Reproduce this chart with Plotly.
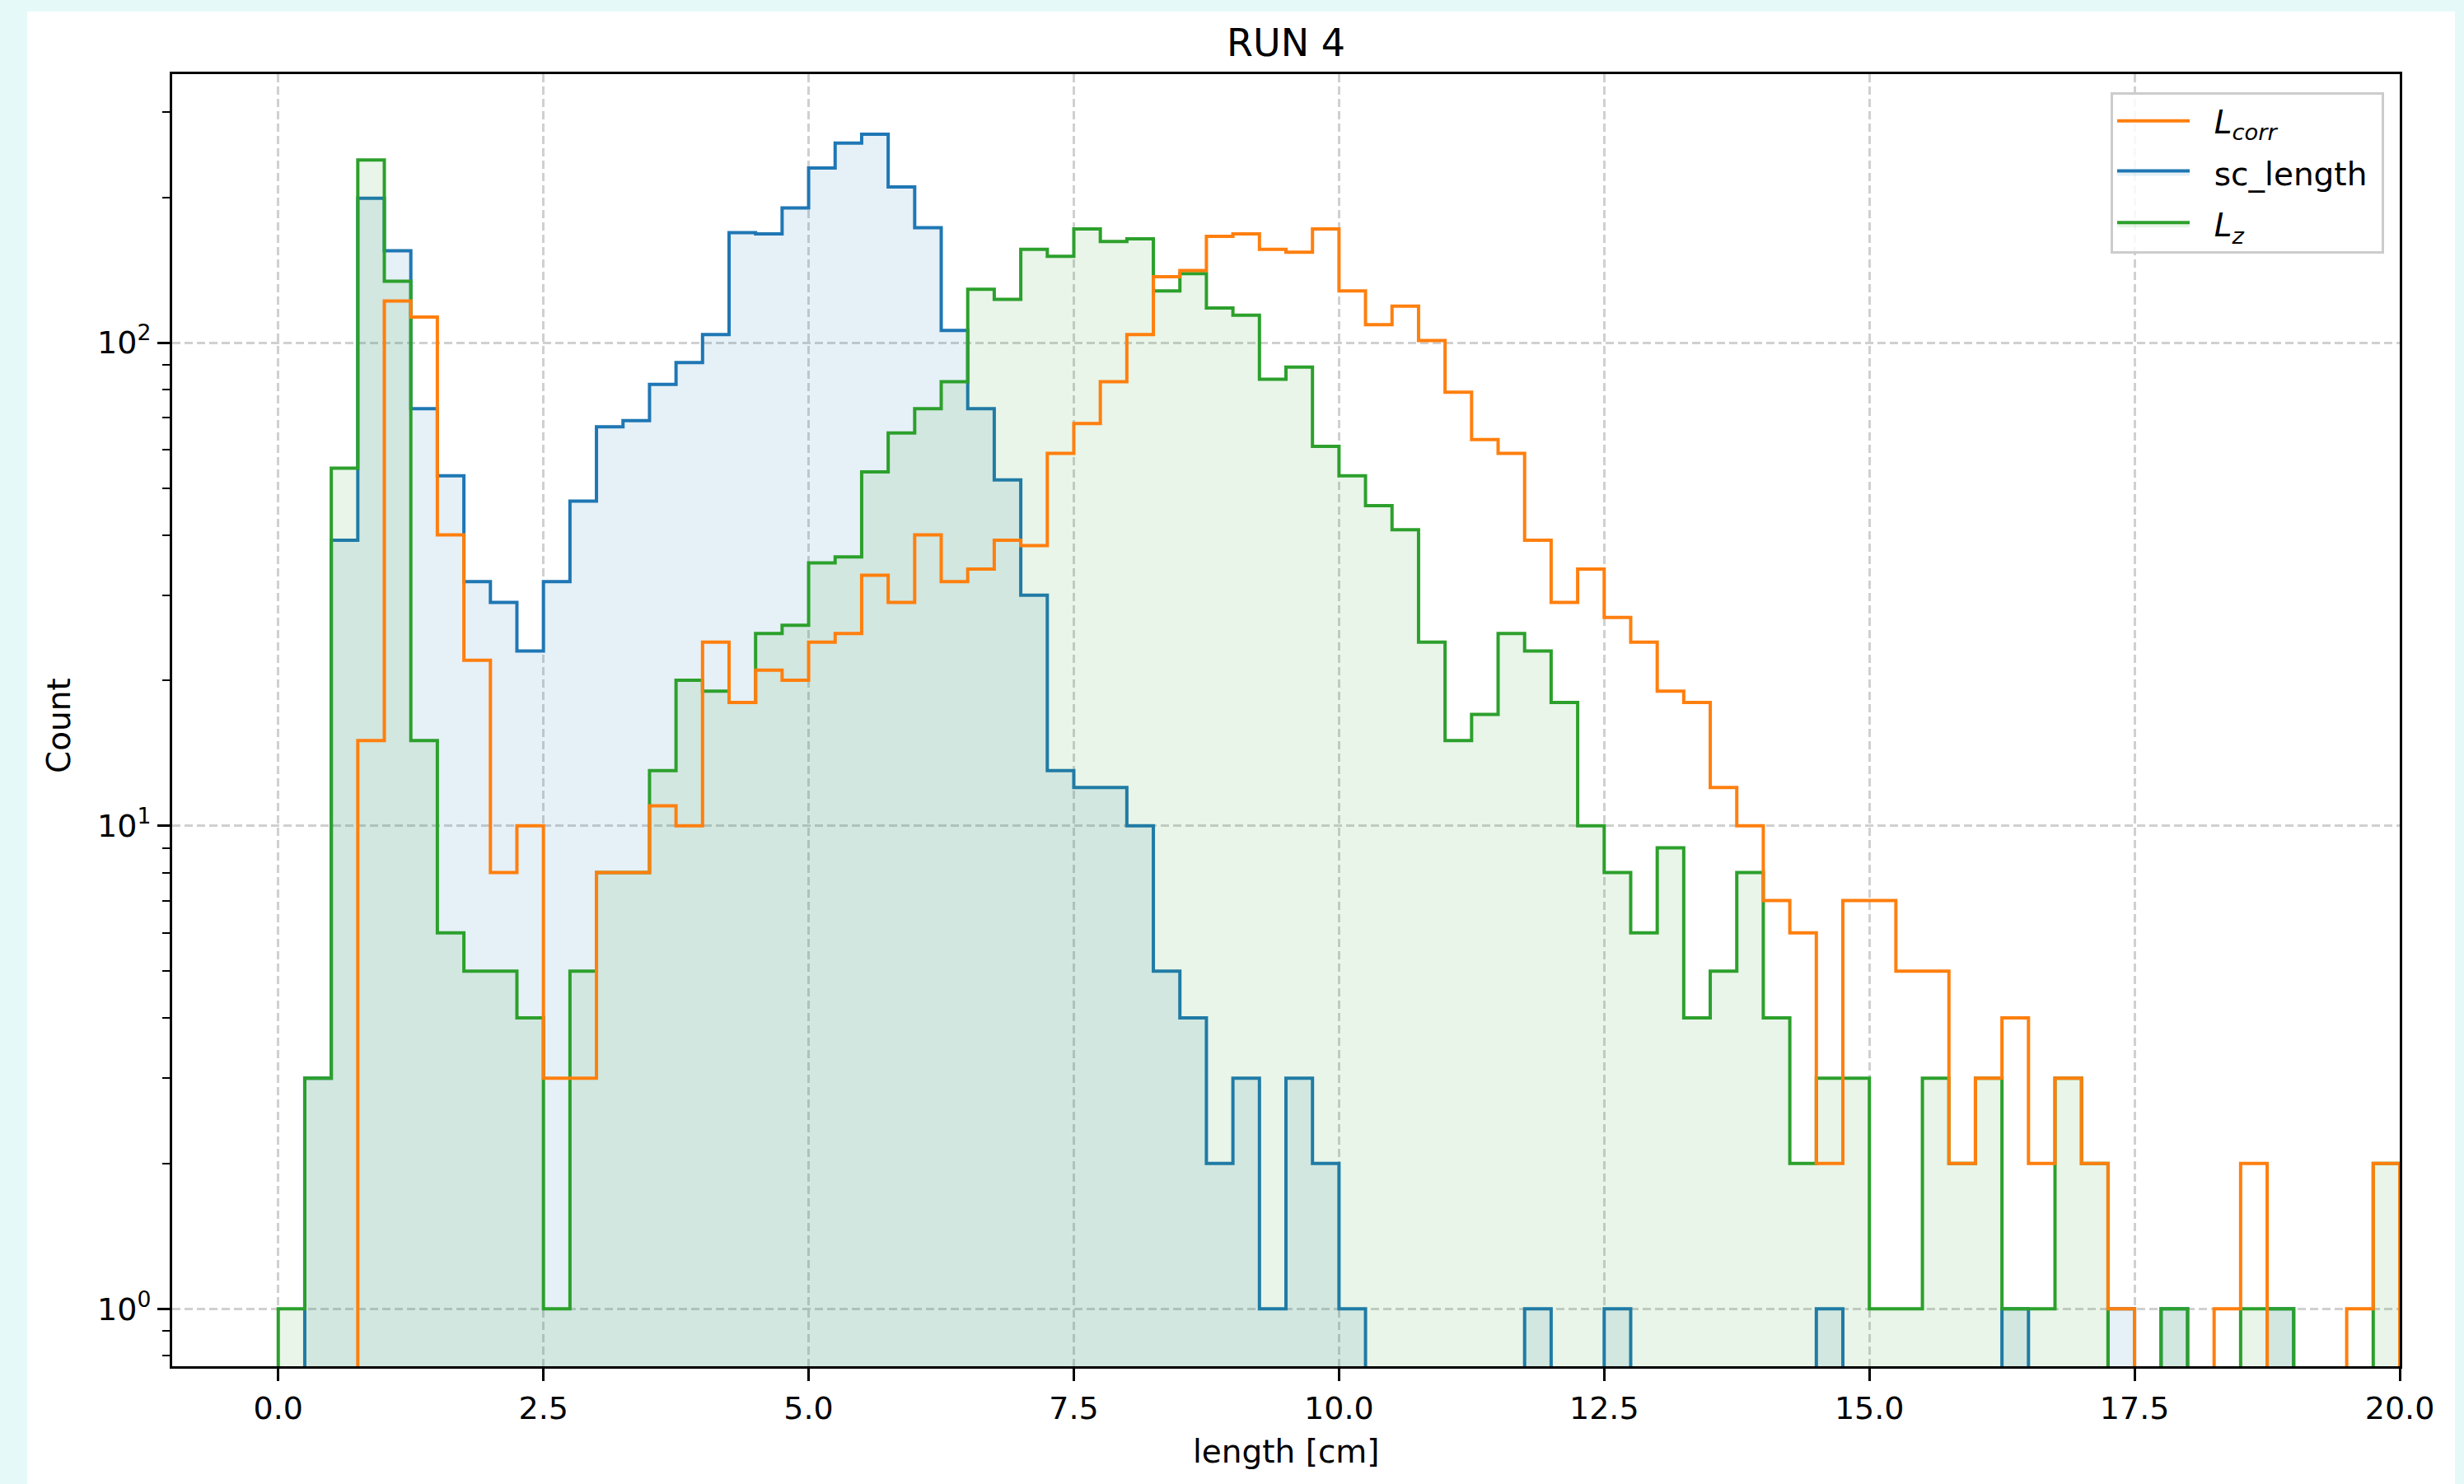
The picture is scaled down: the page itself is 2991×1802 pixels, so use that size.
import plotly.graph_objects as go

# ---------------- data (histogram counts, 80 bins of 0.25 cm from 0 to 20) ----------------
BIN_WIDTH = 0.25
N_BINS = 80
bin_edges = [i * BIN_WIDTH for i in range(N_BINS + 1)]

sc_length_counts = [
    0, 3, 39, 199, 155, 73, 53, 32, 29, 23,
    32, 47, 67, 69, 82, 91, 104, 169, 168, 190,
    230, 259, 270, 210, 173, 106, 73, 52, 30, 13,
    12, 12, 10, 5, 4, 2, 3, 1, 3, 2,
    1, 0, 0, 0, 0, 0, 0, 1, 0, 0,
    1, 0, 0, 0, 0, 0, 0, 0, 1, 0,
    0, 0, 0, 0, 0, 1, 0, 0, 0, 1,
    0, 1, 0, 0, 0, 1, 0, 0, 0, 0,
]

lz_counts = [
    1, 3, 55, 239, 134, 15, 6, 5, 5, 4,
    1, 5, 8, 8, 13, 20, 19, 18, 25, 26,
    35, 36, 54, 65, 73, 83, 129, 123, 156, 151,
    172, 162, 164, 128, 139, 118, 114, 84, 89, 61,
    53, 46, 41, 24, 15, 17, 25, 23, 18, 10,
    8, 6, 9, 4, 5, 8, 4, 2, 3, 3,
    1, 1, 3, 2, 3, 1, 1, 3, 2, 0,
    0, 1, 0, 0, 1, 1, 0, 0, 0, 2,
]

lcorr_counts = [
    0, 0, 0, 15, 122, 113, 40, 22, 8, 10,
    3, 3, 8, 8, 11, 10, 24, 18, 21, 20,
    24, 25, 33, 29, 40, 32, 34, 39, 38, 59,
    68, 83, 104, 137, 141, 166, 168, 156, 154, 172,
    128, 109, 119, 101, 79, 63, 59, 39, 29, 34,
    27, 24, 19, 18, 12, 10, 7, 6, 2, 7,
    7, 5, 5, 2, 3, 4, 2, 3, 2, 1,
    0, 0, 0, 1, 2, 0, 0, 0, 1, 2,
]

series_names = ["sc_length", "<i>L<sub>z</sub></i>", "<i>L<sub>corr</sub></i>"]
x_tick_values = [0, 2.5, 5, 7.5, 10, 12.5, 15, 17.5, 20]
y_tick_values = [1, 10, 100]
y_tick_text = ["10<sup>0</sup>", "10<sup>1</sup>", "10<sup>2</sup>"]
y_minor_values = [0.8, 0.9, 2, 3, 4, 5, 6, 7, 8, 9,
                  20, 30, 40, 50, 60, 70, 80, 90, 200, 300]

# ---------------- helpers ----------------
FLOOR = 0.1  # stands in for zero counts on the log axis (below visible range)
NB = "\u00a0"


def step_outline(counts):
    ys = [c if c > 0 else FLOOR for c in counts]
    xs = [bin_edges[0]] + bin_edges[:-1] + [bin_edges[-1], bin_edges[-1]]
    yy = [FLOOR] + ys + [ys[-1], FLOOR]
    return xs, yy


def legend_label(name):
    return NB * 2 + name + NB


BLUE = "#1f77b4"
ORANGE = "#ff7f0e"
GREEN = "#2ca02c"
FONT = "DejaVu Sans"

fig = go.Figure()

bx, by = step_outline(sc_length_counts)
fig.add_trace(go.Scatter(
    x=bx, y=by, mode="lines", line=dict(color=BLUE, width=4, shape="hv"),
    fill="toself", fillcolor="rgba(31,119,180,0.11)",
    name=legend_label(series_names[0]), legendrank=2, legendgroup="sc",
    hoverinfo="skip",
))

gx, gy = step_outline(lz_counts)
fig.add_trace(go.Scatter(
    x=gx, y=gy, mode="lines", line=dict(color=GREEN, width=4, shape="hv"),
    fill="toself", fillcolor="rgba(44,160,44,0.11)",
    name=legend_label(series_names[1]), legendrank=3, legendgroup="lz",
    hoverinfo="skip",
))

ox, oy = step_outline(lcorr_counts)
fig.add_trace(go.Scatter(
    x=ox, y=oy, mode="lines", line=dict(color=ORANGE, width=4, shape="hv"),
    name=legend_label(series_names[2]), legendrank=1, legendgroup="lc",
    hoverinfo="skip",
))

W, H = 2991, 1802
ML, MR, MT, MB = 209, 78, 90, 143
plot_w = W - ML - MR
plot_h = H - MT - MB


def px_x(p):
    return (p - ML) / plot_w


def px_y(p):
    return (H - MB - p) / plot_h


grid_dash = "10px,5px"
grid_col = "#d0d0d0"

fig.update_layout(
    width=W, height=H,
    margin=dict(l=ML, r=MR, t=MT, b=MB, pad=0),
    paper_bgcolor="#e6f9f9",
    plot_bgcolor="white",
    font=dict(family=FONT, size=38, color="black"),
    title=dict(text="RUN 4", x=0.5, xref="paper", xanchor="center",
               y=1 - 52 / H, yref="container", yanchor="middle",
               font=dict(family=FONT, size=46, color="black")),
    showlegend=True,
    legend=dict(
        x=px_x(2894), y=px_y(112), xanchor="right", yanchor="top",
        bgcolor="rgba(255,255,255,0.85)", bordercolor="#cccccc", borderwidth=3,
        font=dict(family=FONT, size=39, color="black"),
        itemwidth=88, tracegroupgap=9, traceorder="grouped",
    ),
    xaxis=dict(
        range=[-1, 20], tickvals=x_tick_values, tickformat=".1f",
        ticks="outside", ticklen=15, tickwidth=3, tickcolor="black",
        showline=True, linecolor="black", linewidth=3, mirror=True,
        showgrid=True, gridcolor=grid_col, gridwidth=3, griddash=grid_dash,
        zeroline=False, automargin=False,
        tickfont=dict(family=FONT, size=38, color="black"),
    ),
    yaxis=dict(
        type="log", range=[-0.119, 2.556],
        tickmode="array", tickvals=y_tick_values, ticktext=y_tick_text,
        ticks="outside", ticklen=15, tickwidth=3, tickcolor="black",
        minor=dict(tickmode="array", tickvals=y_minor_values, ticks="outside",
                   ticklen=9, tickwidth=2, tickcolor="black", showgrid=False),
        showline=True, linecolor="black", linewidth=3, mirror=True,
        showgrid=True, gridcolor=grid_col, gridwidth=3, griddash=grid_dash,
        zeroline=False, automargin=False,
        tickfont=dict(family=FONT, size=38, color="black"),
    ),
    shapes=[dict(type="rect", xref="paper", yref="paper", layer="below",
                 x0=px_x(33), x1=px_x(2980), y0=px_y(1830), y1=px_y(14),
                 fillcolor="white", line=dict(width=0))],
    annotations=[
        dict(text="length [cm]", xref="paper", yref="paper", x=0.5, y=px_y(1762),
             xanchor="center", yanchor="middle", showarrow=False,
             font=dict(family=FONT, size=39, color="black")),
        dict(text="Count", xref="paper", yref="paper", x=px_x(72), y=px_y(881),
             xanchor="center", yanchor="middle", showarrow=False, textangle=-90,
             font=dict(family=FONT, size=39, color="black")),
    ],
)

fig.write_html("out.html")
